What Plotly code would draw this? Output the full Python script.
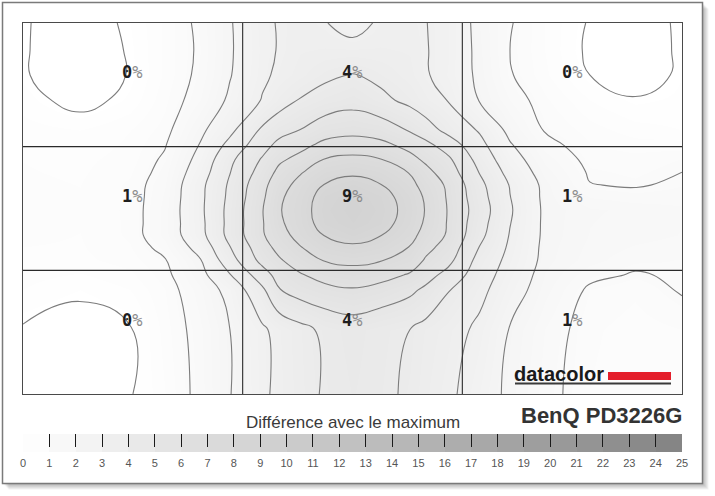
import plotly.graph_objects as go

# Measured uniformity: % difference from the maximum, rows top -> bottom
cell_values = [[0, 4, 0],
               [1, 9, 1],
               [0, 4, 1]]

grid_x = [0, 8.6, 16.2, 21.5, 26.9, 31.4, 36.3, 38.9, 42.0, 45.8, 50.0, 54.2, 58.7, 61.1,
          64.5, 69.3, 73.9, 79.2, 86.0, 92.9, 100]
grid_y = [0, 7.3, 14.0, 20.8, 28.8, 32.9, 36.9, 40.2, 43.7, 46.9, 50.4, 53.9, 57.1, 60.6,
          63.9, 67.9, 72.0, 82.7, 100]
field = [
    [0.05, -0.3, 0.1, 0.55, 1.15, 1.92, 2.85, 3.05, 3.25, 3.05, 2.6, 3.15, 3.2, 3.02, 2.75, 1.7, 1.05, 0.5, -0.05, -0.3, 0.1],
    [0.05, -0.35, 0.05, 0.55, 1.1, 1.9, 2.8, 3.05, 3.3, 3.35, 3.35, 3.35, 3.3, 3.04, 2.75, 1.75, 1.0, 0.5, -0.1, -0.35, 0.1],
    [0.05, -0.35, 0.03, 0.55, 1.15, 1.95, 2.85, 3.15, 3.45, 3.8, 4.05, 3.75, 3.4, 3.07, 2.7, 1.8, 1.05, 0.55, 0.0, -0.3, 0.1],
    [0.2, -0.2, 0.15, 0.65, 1.3, 2.15, 3.05, 3.58, 4.05, 4.4, 4.65, 4.25, 3.75, 3.38, 2.97, 1.95, 1.3, 0.75, 0.3, 0.05, 0.15],
    [0.4, 0.3, 0.5, 0.8, 1.8, 2.75, 4.15, 4.65, 5.0, 5.55, 5.7, 5.55, 4.9, 4.45, 3.7, 2.9, 1.75, 0.95, 0.6, 0.4, 0.3],
    [0.45, 0.37, 0.55, 0.95, 2.05, 3.28, 4.63, 5.27, 5.7, 6.25, 6.45, 6.25, 5.72, 5.27, 4.55, 3.28, 2.08, 1.2, 0.72, 0.6, 0.6],
    [0.5, 0.45, 0.6, 1.1, 2.3, 3.8, 5.1, 5.85, 6.3, 7.07, 7.27, 7.07, 6.3, 5.85, 5.2, 3.65, 2.4, 1.45, 0.85, 0.8, 0.92],
    [0.52, 0.47, 0.67, 1.2, 2.52, 3.97, 5.4, 6.25, 6.9, 7.56, 7.82, 7.56, 6.95, 6.27, 5.52, 3.95, 2.68, 1.62, 0.94, 0.87, 1.0],
    [0.55, 0.5, 0.75, 1.3, 2.75, 4.15, 5.7, 6.61, 7.3, 8.05, 8.4, 8.05, 7.3, 6.63, 5.85, 4.25, 2.95, 1.8, 1.02, 0.95, 1.1],
    [0.57, 0.52, 0.75, 1.35, 2.78, 4.22, 5.82, 6.84, 7.48, 8.4, 8.77, 8.4, 7.55, 6.87, 5.9, 4.38, 3.02, 1.82, 1.3, 1.2, 1.22],
    [0.6, 0.55, 0.75, 1.4, 2.8, 4.3, 5.95, 6.93, 7.55, 8.5, 8.9, 8.5, 7.65, 6.95, 5.95, 4.5, 3.1, 1.85, 1.55, 1.45, 1.35],
    [0.57, 0.52, 0.75, 1.4, 2.75, 4.3, 5.92, 6.84, 7.5, 8.4, 8.77, 8.4, 7.55, 6.87, 5.93, 4.38, 3.03, 1.85, 1.52, 1.42, 1.32],
    [0.55, 0.5, 0.75, 1.4, 2.7, 4.3, 5.9, 6.61, 7.35, 8.05, 8.4, 8.05, 7.35, 6.63, 5.9, 4.25, 2.95, 1.85, 1.5, 1.4, 1.3],
    [0.5, 0.48, 0.68, 1.18, 2.33, 3.95, 5.6, 6.28, 6.92, 7.56, 7.82, 7.56, 6.95, 6.27, 5.6, 3.95, 2.85, 1.82, 1.45, 1.28, 1.2],
    [0.45, 0.45, 0.6, 0.95, 1.95, 3.6, 5.3, 5.9, 6.5, 7.07, 7.25, 7.07, 6.6, 5.9, 5.3, 3.65, 2.75, 1.8, 1.4, 1.15, 1.1],
    [0.38, 0.28, 0.45, 0.82, 1.7, 2.95, 4.55, 5.39, 5.9, 6.38, 6.57, 6.38, 5.9, 5.39, 4.68, 3.45, 2.58, 1.7, 1.15, 0.95, 1.08],
    [0.3, 0.1, 0.3, 0.7, 1.45, 2.3, 3.8, 4.95, 5.4, 5.71, 5.9, 5.65, 5.2, 4.8, 4.05, 3.25, 2.4, 1.6, 0.9, 0.75, 1.05],
    [-0.05, -0.25, -0.05, 0.6, 1.25, 2.0, 2.85, 3.3, 3.7, 4.2, 4.45, 4.2, 4.0, 3.7, 3.4, 2.8, 1.95, 1.3, 0.75, 0.6, 0.7],
    [-0.1, -0.3, -0.05, 0.5, 1.2, 1.97, 2.8, 3.25, 3.65, 4.1, 4.35, 4.15, 3.9, 3.57, 3.2, 2.5, 1.8, 1.2, 0.7, 0.55, 0.6],
]

# Colour scale legend
scale_ticks = [0, 1, 2, 3, 4, 5, 6, 7, 8, 9, 10, 11, 12, 13, 14, 15, 16, 17, 18, 19, 20, 21, 22, 23, 24, 25]
legend_steps = [0, 1, 2, 3, 4, 5, 6, 7, 8, 9, 10, 11, 12, 13, 14, 15, 16, 17, 18, 19, 20, 21, 22, 23, 24]

title_text = "Différence avec le maximum"
model_text = "BenQ PD3226G"
logo_text = "datacolor"

W, H = 715, 496
ML, MR, MT, MB = 23, 33, 23, 44
PW, PH = W - ML - MR, H - MT - MB


def px_x(px):
    return (px - ML) / PW


def px_y(py):
    return (H - MB - py) / PH


gray_scale = [[0, "#ffffff"], [1, "#838383"]]

fig = go.Figure()

fig.add_trace(go.Contour(
    x=grid_x, y=grid_y, z=field,
    zmin=0, zmax=25, zauto=False,
    colorscale=gray_scale, showscale=False,
    contours=dict(start=0, end=9, size=1, coloring="heatmap", showlines=True),
    line=dict(color="#7c7c7c", width=1.1, smoothing=1.3),
    hoverinfo="skip",
    xaxis="x", yaxis="y",
))

# legend bar
fig.add_trace(go.Heatmap(
    x=[s + 0.5 for s in legend_steps], y=[0.5], z=[[s + 0.5 for s in legend_steps]],
    zmin=0, zmax=25, colorscale=gray_scale, showscale=False, hoverinfo="skip",
    xaxis="x2", yaxis="y2",
))
fig.add_trace(go.Scatter(x=[], y=[], xaxis="x3", yaxis="y2", showlegend=False, hoverinfo="skip"))

main_dom_bottom = px_y(394)

# percentage labels
annotations = []
for r, row in enumerate(cell_values):
    for c, v in enumerate(row):
        annotations.append(dict(
            x=(c + 0.5) * 100 / 3, y=(r + 0.5) * 100 / 3, xref="x", yref="y",
            text=f"<b>{v}</b><span style='color:#8c8c8c'>%</span>",
            showarrow=False, yshift=12.5,
            font=dict(family="DejaVu Sans Mono", size=17, color="#1e1e1e"),
        ))

annotations += [
    dict(x=0.5, y=px_y(422), xref="paper", yref="paper", text=title_text, showarrow=False,
         xanchor="center", yanchor="middle",
         font=dict(family="Liberation Sans, Arial", size=17, color="#3a3a3a")),
    dict(x=px_x(684), y=px_y(415), xref="paper", yref="paper", text=f"<b>{model_text}</b>", showarrow=False,
         xanchor="right", yanchor="middle",
         font=dict(family="Liberation Sans, Arial", size=22, color="#333333")),
    dict(x=px_x(512), y=px_y(374), xref="paper", yref="paper", text=f"<b>{logo_text}</b>", showarrow=False,
         xanchor="left", yanchor="middle",
         font=dict(family="Liberation Sans, Arial", size=20, color="#1a1a1a")),
]

shapes = []
# drop shadow + frame
for k in range(1, 7):
    shapes.append(dict(type="rect", xref="paper", yref="paper", layer="below",
                       x0=px_x(2.5 + k), x1=px_x(702.5 + k), y0=px_y(483.5 + k), y1=px_y(2.5 + k),
                       fillcolor="rgba(0,0,0,0.05)", line=dict(width=0)))
shapes.append(dict(type="rect", xref="paper", yref="paper", layer="below",
                   x0=px_x(2.5), x1=px_x(702.5), y0=px_y(483.5), y1=px_y(2.5),
                   fillcolor="#ffffff", line=dict(color="#7a7a7a", width=1.5)))
# 3x3 measurement grid
for k in (1, 2):
    shapes.append(dict(type="line", xref="x", yref="y", x0=k * 100 / 3, x1=k * 100 / 3, y0=0, y1=100,
                       line=dict(color="#2a2a2a", width=1.1), layer="above"))
    shapes.append(dict(type="line", xref="x", yref="y", x0=0, x1=100, y0=k * 100 / 3, y1=k * 100 / 3,
                       line=dict(color="#2a2a2a", width=1.1), layer="above"))
# logo red bar and underline
shapes.append(dict(type="rect", xref="paper", yref="paper", x0=px_x(608), x1=px_x(671),
                   y0=px_y(380), y1=px_y(372), fillcolor="#e41e2b", line=dict(width=0), layer="above"))
shapes.append(dict(type="line", xref="paper", yref="paper", x0=px_x(515), x1=px_x(671),
                   y0=px_y(383.5), y1=px_y(383.5), line=dict(color="#3a3a3a", width=2), layer="above"))

fig.update_layout(
    width=W, height=H,
    margin=dict(l=ML, r=MR, t=MT, b=MB, pad=0),
    paper_bgcolor="#ffffff", plot_bgcolor="#ffffff",
    showlegend=False,
    xaxis=dict(domain=[0, 1], range=[0, 100], showticklabels=False, ticks="", showgrid=False,
               zeroline=False, showline=True, mirror=True, linecolor="#4a4a4a", linewidth=1.2, anchor="y"),
    yaxis=dict(domain=[main_dom_bottom, 1], range=[100, 0], showticklabels=False, ticks="", showgrid=False,
               zeroline=False, showline=True, mirror=True, linecolor="#4a4a4a", linewidth=1.2, anchor="x"),
    xaxis2=dict(domain=[0, 1], range=[0, 25], anchor="y2", tickmode="array", tickvals=scale_ticks,
                ticktext=[str(t) for t in scale_ticks], ticks="", showgrid=False, zeroline=False,
                showline=False, ticklabelstandoff=3,
                tickfont=dict(family="Liberation Sans, Arial", size=11, color="#555555")),
    xaxis3=dict(overlaying="x2", side="top", anchor="y2", range=[0, 25], tickmode="array",
                tickvals=legend_steps, ticks="inside", ticklen=13, tickwidth=1.3, tickcolor="#1a1a1a",
                showticklabels=False, showgrid=False, zeroline=False, showline=False),
    yaxis2=dict(domain=[0, px_y(434)], range=[0, 1], visible=False, anchor="x2"),
    annotations=annotations,
    shapes=shapes,
)

fig.write_html("out.html", config={"displayModeBar": False},
               post_script="document.body.style.margin='0px';")
